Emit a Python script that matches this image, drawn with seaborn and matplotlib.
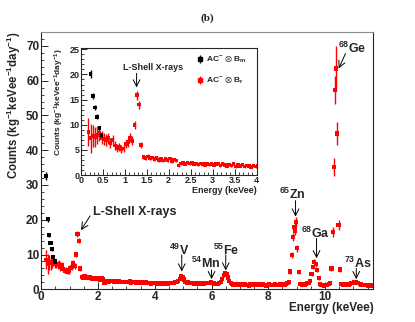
import numpy as np
import pandas as pd
import matplotlib
matplotlib.use("Agg")
import matplotlib.pyplot as plt
import seaborn as sns

sns.set_theme(style="ticks")
plt.rcParams['font.family'] = ['Liberation Sans', 'DejaVu Sans']
plt.rcParams['mathtext.default'] = 'regular'
plt.rcParams['axes.linewidth'] = 0.8

# AC- x B_m (black), only the lowest bins differ from the red set
e_bm = [0.175, 0.225, 0.275, 0.325, 0.375, 0.425, 0.475]
c_bm = [32.5, 20.1, 15.7, 13.4, 11.6, 9.4, 8.0]
err_bm = [1.2, 0.8, 0.6, 0.5, 0.5, 0.4, 0.4]

# AC- x B_r (red), 0.175 - 3.975 keVee in 0.05 bins
e_low = np.round(0.175 + 0.05 * np.arange(77), 3)
c_low = [8.5, 7.3, 7.8, 7.5, 7.9, 8.3, 7.4, 7.2, 7.0, 7.3,
         6.4, 6.9, 5.9, 5.4, 5.6, 5.1, 5.3, 6.2, 6.5, 7.4,
         6.8, 10.0, 15.9, 14.0, 6.0, 3.6, 3.4, 3.7, 3.3, 3.5,
         3.2, 3.4, 3.0, 3.3, 2.9, 3.2, 3.0, 3.3, 2.8, 3.1,
         2.9, 1.9, 2.3, 2.4, 2.2, 2.5, 2.3, 2.4, 2.2, 2.3,
         2.1, 2.3, 2.2, 2.0, 2.2, 2.1, 2.2, 2.0, 2.2, 2.3,
         1.9, 2.2, 2.0, 1.8, 2.1, 1.9, 2.2, 1.7, 2.0, 1.8,
         2.1, 1.7, 1.9, 1.8, 1.6, 1.9, 1.7]
err_low = [2.8, 2.9, 2.2, 2.0, 1.8, 1.5, 1.3, 1.2, 1.2, 1.1,
           1.0, 1.0, 0.9, 0.8, 0.8, 0.8, 0.8, 0.8, 0.9, 0.9,
           0.9, 0.8, 0.9, 0.8, 0.6, 0.4, 0.4, 0.4, 0.35, 0.35,
           0.35, 0.35, 0.35, 0.35, 0.35, 0.35, 0.35, 0.35, 0.35, 0.35,
           0.35, 0.3, 0.3, 0.3, 0.3, 0.3, 0.3, 0.3, 0.3, 0.3,
           0.3, 0.3, 0.3, 0.3, 0.3, 0.3, 0.3, 0.3, 0.3, 0.3,
           0.3, 0.3, 0.3, 0.3, 0.3, 0.3, 0.3, 0.3, 0.3, 0.3,
           0.3, 0.3, 0.3, 0.3, 0.3, 0.3, 0.3]

# 4.025 - 11.675 keVee in 0.05 bins
e_high = np.round(4.025 + 0.05 * np.arange(154), 3)
c_high = [1.8, 1.6, 1.7, 1.9, 1.6, 1.7, 1.5, 1.8, 1.7, 1.6, 1.8, 1.7, 1.9, 1.8, 2.0, 2.1, 2.4, 3.0, 3.8, 3.6,
          2.8, 2.2, 1.9, 2.0, 1.8, 1.7, 1.9, 1.6, 1.8, 1.7, 1.6, 1.8, 1.5, 1.7, 1.6, 1.8, 1.7, 1.9, 1.8, 2.0,
          1.9, 1.8, 1.6, 1.5, 1.6, 1.7, 2.0, 2.9, 4.0, 4.6, 4.3, 3.4, 2.4, 1.8, 1.5, 1.4, 1.3, 1.2, 1.4, 1.3,
          1.5, 1.2, 1.3, 1.4, 1.2, 1.3, 1.1, 1.4, 1.3, 1.2, 1.4, 1.3, 1.2, 1.5, 1.3, 1.2, 1.4, 1.3, 1.1, 1.3,
          1.4, 1.2, 1.3, 1.2, 1.4, 1.3, 1.2, 1.3, 1.4, 1.3, 1.5, 1.4, 1.6, 1.7, 2.2, 5.1, 9.9, 15.1, 18.0, 19.4,
          11.8, 5.0, 1.6, 1.3, 1.2, 1.4, 1.5, 1.7, 1.8, 2.4, 4.4, 6.5, 7.9, 7.2, 5.6, 3.3, 1.6, 1.3, 1.2, 1.1,
          1.2, 1.3, 1.5, 1.9, 6.0, 16.5, 35.2, 63.5, 44.8, 18.5, 5.7, 1.5, 1.3, 1.4, 1.2, 1.3, 1.4, 1.5, 1.7, 1.9,
          2.0, 2.1, 1.9, 1.7, 1.5, 1.4, 1.3, 1.2, 1.3, 1.2, 1.1, 1.2, 1.1, 1.2]
err_high = [0.3, 0.3, 0.3, 0.3, 0.3, 0.3, 0.3, 0.3, 0.3, 0.3, 0.3, 0.3, 0.3, 0.3, 0.3, 0.3, 0.4, 0.4, 0.5, 0.5,
            0.4, 0.3, 0.3, 0.3, 0.3, 0.3, 0.3, 0.3, 0.3, 0.3, 0.3, 0.3, 0.3, 0.3, 0.3, 0.3, 0.3, 0.3, 0.3, 0.3,
            0.3, 0.3, 0.3, 0.3, 0.3, 0.3, 0.3, 0.4, 0.5, 0.5, 0.5, 0.4, 0.4, 0.3, 0.3, 0.3, 0.3, 0.3, 0.3, 0.3,
            0.3, 0.3, 0.3, 0.3, 0.3, 0.3, 0.3, 0.3, 0.3, 0.3, 0.3, 0.3, 0.3, 0.3, 0.3, 0.3, 0.3, 0.3, 0.3, 0.3,
            0.3, 0.3, 0.3, 0.3, 0.3, 0.3, 0.3, 0.3, 0.3, 0.3, 0.3, 0.3, 0.3, 0.3, 0.4, 0.6, 0.9, 1.2, 1.3, 1.4,
            1.0, 0.6, 0.3, 0.3, 0.3, 0.3, 0.3, 0.3, 0.3, 0.4, 0.5, 0.6, 0.7, 0.7, 0.6, 0.5, 0.3, 0.3, 0.3, 0.3,
            0.3, 0.3, 0.3, 0.3, 0.8, 1.5, 2.5, 6.5, 3.3, 1.5, 0.8, 0.3, 0.3, 0.3, 0.3, 0.3, 0.3, 0.3, 0.3, 0.3,
            0.3, 0.3, 0.3, 0.3, 0.3, 0.3, 0.3, 0.3, 0.3, 0.3, 0.3, 0.3, 0.3, 0.3]

# extra points sitting between bins at the Zn and Ge peaks
e_peak = [8.95, 10.35]
c_peak = [16.7, 57.3]
err_peak = [1.2, 4.0]

red = pd.DataFrame({
    "energy": np.concatenate([e_low, e_high, e_peak]),
    "counts": np.concatenate([c_low, c_high, c_peak]),
    "err": np.concatenate([err_low, err_high, err_peak]),
})
black = pd.DataFrame({"energy": e_bm, "counts": c_bm, "err": err_bm})

lab_m = r"AC$^{-}$ $\otimes$ B$_{m}$"
lab_r = r"AC$^{-}$ $\otimes$ B$_{r}$"


def draw_points(ax, ms):
    ax.errorbar(red["energy"], red["counts"], yerr=red["err"], fmt="none",
                ecolor="red", elinewidth=1.0, zorder=2)
    sns.scatterplot(data=red, x="energy", y="counts", marker="s", s=ms,
                    color="red", edgecolor="none", ax=ax, zorder=3)
    ax.errorbar(black["energy"], black["counts"], yerr=black["err"], fmt="none",
                ecolor="black", elinewidth=1.0, zorder=4)
    sns.scatterplot(data=black, x="energy", y="counts", marker="s", s=ms,
                    color="black", edgecolor="none", ax=ax, zorder=5)


def style_axes(ax, fs, pad):
    ax.tick_params(which="both", direction="in", top=False, right=False,
                   labelsize=fs, pad=pad)
    ax.tick_params(which="major", length=5, width=0.7)
    ax.tick_params(which="minor", length=2.5, width=0.6)
    for lab in ax.get_xticklabels() + ax.get_yticklabels():
        lab.set_fontweight("bold")


fig = plt.figure(figsize=(4.15, 3.22), dpi=100)
ax = fig.add_axes([0.0995, 0.1016, 0.8, 0.799])
draw_points(ax, 9)
ax.set_xlim(0, 11.7)
ax.set_ylim(0, 74)
ax.set_xticks([0, 2, 4, 6, 8, 10])
ax.set_xticks(np.arange(0, 11.7, 0.5), minor=True)
ax.set_yticks(np.arange(0, 71, 10))
ax.set_yticks(np.arange(0, 74, 2), minor=True)
style_axes(ax, 8.5, 1.5)
ax.set_xlabel("Energy (keVee)", fontsize=8.5, fontweight="bold", loc="right")
ax.set_ylabel("Counts (kg$^{-1}$keVee$^{-1}$day$^{-1}$)", fontsize=8.3,
              fontweight="bold", loc="top")
ax.xaxis.set_label_coords(1.0, -0.05)
ax.yaxis.set_label_coords(-0.054, 1.0)
ax.spines["top"].set_color("0.55")

fig.text(0.499, 0.944, "(b)", family="Liberation Serif", fontweight="bold",
         fontsize=8, ha="center", va="center")

arrow = dict(arrowstyle="->", lw=0.7, color="black", shrinkA=0, shrinkB=0)
ax.annotate("", xy=(1.40, 17.0), xytext=(1.72, 21.1), arrowprops=arrow)
ax.text(1.81, 22.1, "L-Shell X-rays", fontsize=9, fontweight="bold", va="center")

peaks = [("$^{49}$V", 4.86, 11.3, 4.95, 9.9, 5.1),
         ("$^{54}$Mn", 5.78, 7.5, 6.0, 5.6, 2.9),
         ("$^{55}$Fe", 6.52, 11.3, 6.5, 9.9, 5.4),
         ("$^{65}$Zn", 8.84, 27.3, 8.96, 25.5, 20.9),
         ("$^{68}$Ga", 9.66, 16.1, 9.7, 14.6, 8.9),
         ("$^{73}$As", 11.15, 7.5, 11.1, 6.0, 2.9)]
for txt, tx, ty, ax_x, y0, y1 in peaks:
    ax.text(tx, ty, txt, fontsize=9, fontweight="bold", ha="center", va="center")
    ax.annotate("", xy=(ax_x, y1), xytext=(ax_x, y0), arrowprops=arrow)
ax.text(10.96, 69.2, "$^{68}$Ge", fontsize=9, fontweight="bold", ha="center", va="center")
ax.annotate("", xy=(10.48, 63.5), xytext=(10.72, 67.8), arrowprops=arrow)

# inset
axin = fig.add_axes([0.1945, 0.4565, 0.424, 0.3935])
axin.set_facecolor("white")
draw_points(axin, 7)
axin.set_xlim(0, 4)
axin.set_ylim(0, 25.2)
axin.set_xticks(np.arange(0, 4.01, 0.5))
axin.set_xticklabels(["0", "0.5", "1", "1.5", "2", "2.5", "3", "3.5", "4"])
axin.set_xticks(np.arange(0, 4.01, 0.1), minor=True)
axin.set_yticks(np.arange(0, 26, 5))
axin.set_yticks(np.arange(0, 25.2, 1), minor=True)
style_axes(axin, 6.5, 1.0)
axin.tick_params(which="major", length=4)
axin.tick_params(which="minor", length=2)
axin.set_xlabel("Energy (keVee)", fontsize=6.5, fontweight="bold", loc="right")
axin.set_ylabel("Counts (kg$^{-1}$keVee$^{-1}$day$^{-1}$)", fontsize=6,
                fontweight="bold", loc="top")
axin.xaxis.set_label_coords(1.0, -0.09)
axin.yaxis.set_label_coords(-0.086, 1.0)
axin.annotate("", xy=(1.27, 17.4), xytext=(1.27, 20.2), arrowprops=arrow)
axin.text(1.65, 21.3, "L-Shell X-rays", fontsize=6.5, fontweight="bold",
          ha="center", va="center")

h_m = axin.errorbar([], [], yerr=[], fmt="s", color="black", ms=2.5, elinewidth=1.0)
h_r = axin.errorbar([], [], yerr=[], fmt="s", color="red", ms=2.5, elinewidth=1.0)
axin.legend([h_m, h_r], [lab_m, lab_r], loc="upper left",
            bbox_to_anchor=(0.66, 0.95), frameon=False,
            handlelength=0.8, handletextpad=0.3, labelspacing=1.15,
            borderaxespad=0, borderpad=0, prop={"weight": "bold", "size": 6})

fig.savefig("out.png", dpi=100)
